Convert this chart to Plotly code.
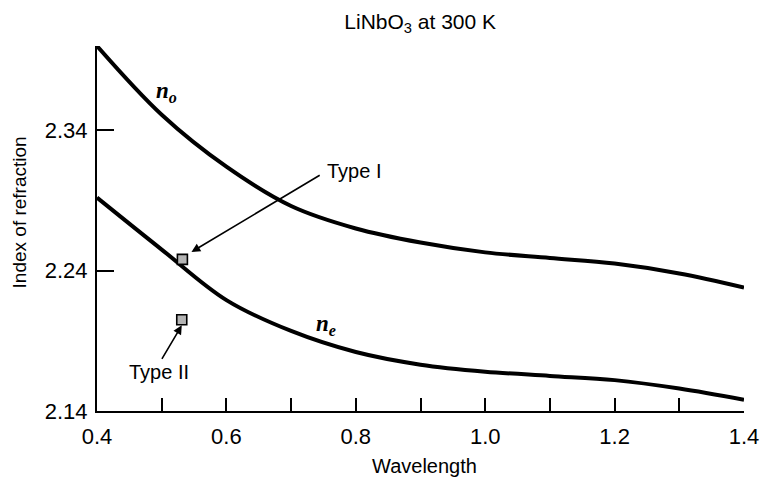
import plotly.graph_objects as go

# Data
wavelength = [0.40, 0.50, 0.60, 0.70, 0.80, 0.90, 1.00, 1.10, 1.20, 1.30, 1.40]
n_o = [2.400, 2.351, 2.314, 2.286, 2.270, 2.260, 2.253, 2.249, 2.245, 2.238, 2.228]
n_e = [2.292, 2.255, 2.219, 2.197, 2.182, 2.173, 2.168, 2.165, 2.162, 2.156, 2.148]

pm_names = ["Type I", "Type II"]
pm_wl = [0.532, 0.531]
pm_n = [2.248, 2.205]

x_ticks = [0.4, 0.6, 0.8, 1.0, 1.2, 1.4]
x_ticklabels = ["0.4", "0.6", "0.8", "1.0", "1.2", "1.4"]
y_ticks = [2.14, 2.24, 2.34]
y_ticklabels = ["2.14", "2.24", "2.34"]

FONT = "Liberation Sans, Arial, Helvetica, sans-serif"
SERIF = "Liberation Serif, DejaVu Serif, serif"

fig = go.Figure()
fig.add_trace(go.Scatter(x=wavelength, y=n_o, mode="lines", name="n_o",
                         line=dict(color="black", width=4, shape="spline", smoothing=1.0),
                         showlegend=False, hoverinfo="skip"))
fig.add_trace(go.Scatter(x=wavelength, y=n_e, mode="lines", name="n_e",
                         line=dict(color="black", width=4, shape="spline", smoothing=1.0),
                         showlegend=False, hoverinfo="skip"))
fig.add_trace(go.Scatter(x=pm_wl, y=pm_n, mode="markers", name="phase matching",
                         marker=dict(symbol="square", size=10, color="#b4b4b4",
                                     line=dict(color="black", width=1.6)),
                         showlegend=False, hoverinfo="skip"))

annotations = [
    # curve labels
    dict(x=0.508, y=2.367, text="<b><i>n<sub>o</sub></i></b>", showarrow=False,
         font=dict(family=SERIF, size=23, color="black")),
    dict(x=0.754, y=2.201, text="<b><i>n<sub>e</sub></i></b>", showarrow=False,
         font=dict(family=SERIF, size=23, color="black")),
    # Type I
    dict(x=0.752, y=2.311, text=pm_names[0], showarrow=False, xanchor="left",
         font=dict(family=FONT, size=20, color="black")),
    dict(x=0.546, y=2.2533, ax=0.7465, ay=2.3086, axref="x", ayref="y",
         text="", showarrow=True, arrowhead=2, arrowsize=1.1, arrowwidth=1.6,
         arrowcolor="black", standoff=0, startstandoff=0),
    # Type II
    dict(x=0.496, y=2.1675, text=pm_names[1], showarrow=False,
         font=dict(family=FONT, size=20, color="black")),
    dict(x=0.531, y=2.201, ax=0.499, ay=2.176, axref="x", ayref="y",
         text="", showarrow=True, arrowhead=2, arrowsize=1.1, arrowwidth=1.6,
         arrowcolor="black", standoff=0, startstandoff=0),
    # axis titles
    dict(x=-0.120, y=0.545, xref="paper", yref="paper", text="Index of refraction",
         textangle=-90, showarrow=False, xanchor="center", yanchor="middle",
         font=dict(family=FONT, size=19, color="black")),
    dict(x=0.506, y=-0.151, xref="paper", yref="paper", text="Wavelength",
         showarrow=False, xanchor="center", yanchor="middle",
         font=dict(family=FONT, size=20, color="black")),
]

fig.update_layout(
    width=771, height=481,
    margin=dict(l=97, r=16, t=46, b=70),
    paper_bgcolor="white", plot_bgcolor="white",
    font=dict(family=FONT, size=20, color="black"),
    title=dict(text="LiNbO<sub>3</sub> at 300 K", x=0.545, xanchor="center",
               y=0.955, yanchor="middle", font=dict(family=FONT, size=21, color="black")),
    annotations=annotations,
    showlegend=False,
)

fig.update_xaxes(
    range=[0.4, 1.4], tickvals=x_ticks, ticktext=x_ticklabels,
    ticks="inside", ticklen=13, tickwidth=1.5, tickcolor="black",
    minor=dict(dtick=0.1, tick0=0.4, ticks="inside", ticklen=13, tickwidth=1.5,
               tickcolor="black", showgrid=False),
    showline=True, linecolor="black", linewidth=2, mirror=False,
    showgrid=False, zeroline=False, ticklabelstandoff=5,
    tickfont=dict(family=FONT, size=22, color="black"),
)
fig.update_yaxes(
    range=[2.14, 2.40], tickvals=y_ticks, ticktext=y_ticklabels,
    ticks="inside", ticklen=17, tickwidth=1.5, tickcolor="black",
    showline=True, linecolor="black", linewidth=2, mirror=False,
    showgrid=False, zeroline=False, ticklabelstandoff=3,
    tickfont=dict(family=FONT, size=22, color="black"),
)

fig.write_html("out.html")
